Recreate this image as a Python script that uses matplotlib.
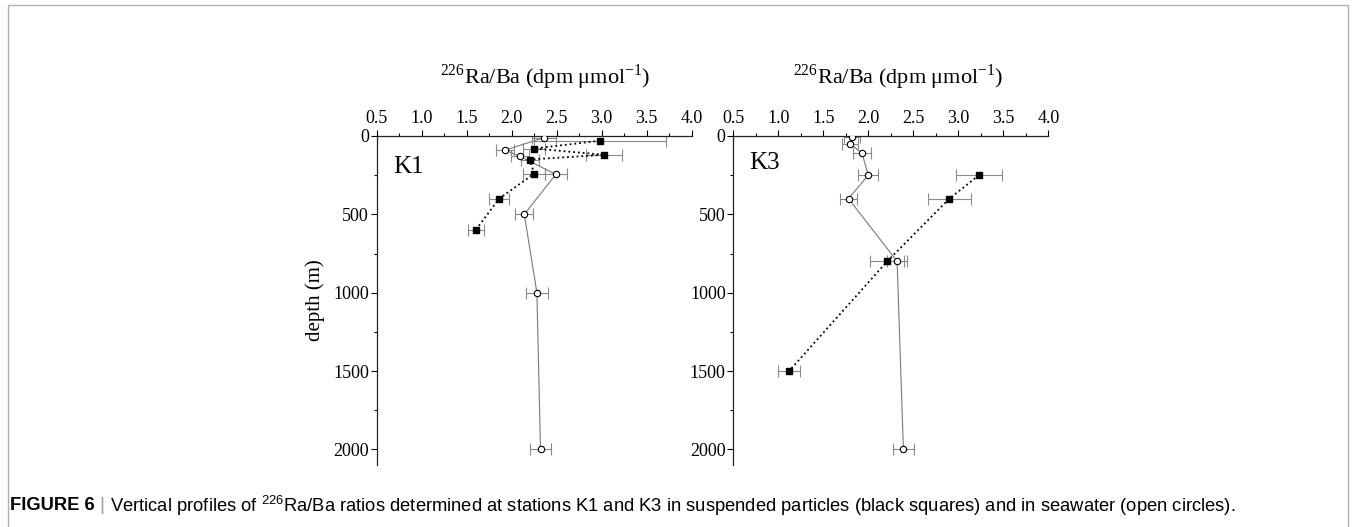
import matplotlib
matplotlib.use('Agg')
import matplotlib.pyplot as plt
from matplotlib.patches import Rectangle
from matplotlib.ticker import MultipleLocator

# K1 station
k1_part_depth = [30, 80, 120, 150, 240, 400, 600]
k1_part_ratio = [2.98, 2.25, 3.03, 2.20, 2.25, 1.86, 1.60]
k1_part_err = [0.73, 0.12, 0.20, 0.10, 0.12, 0.11, 0.09]

k1_sw_depth = [10, 90, 130, 245, 500, 1000, 2000]
k1_sw_ratio = [2.36, 1.93, 2.09, 2.49, 2.14, 2.28, 2.32]
k1_sw_err = [0.13, 0.10, 0.10, 0.12, 0.10, 0.12, 0.12]

# K3 station
k3_part_depth = [250, 400, 800, 1500]
k3_part_ratio = [3.23, 2.90, 2.21, 1.12]
k3_part_err = [0.26, 0.24, 0.19, 0.12]

k3_sw_depth = [5, 50, 110, 250, 400, 800, 2000]
k3_sw_ratio = [1.82, 1.80, 1.93, 2.00, 1.78, 2.32, 2.39]
k3_sw_err = [0.09, 0.09, 0.10, 0.11, 0.09, 0.11, 0.12]

xticks = [0.5, 1.0, 1.5, 2.0, 2.5, 3.0, 3.5, 4.0]
yticks = [0, 500, 1000, 1500, 2000]

plt.rcParams['font.family'] = ['Liberation Serif', 'DejaVu Serif']
plt.rcParams['mathtext.fontset'] = 'custom'
plt.rcParams['mathtext.rm'] = 'Liberation Serif'
plt.rcParams['mathtext.sf'] = 'Liberation Sans'

W, H = 1355, 527
fig = plt.figure(figsize=(W / 100, H / 100), dpi=100)

# light frame round the figure
fig.patches.append(Rectangle((8 / W, -0.1), (1348 - 8) / W, 1.1 - 5 / H,
                             transform=fig.transFigure, fill=False,
                             edgecolor='#b0b0b0', linewidth=1.0))

xlabel = r'$^{226}$Ra/Ba (dpm μmol$^{-1}$)'


def profile(ax, part_d, part_r, part_e, sw_d, sw_r, sw_e, name, name_y, lab_x):
    ax.errorbar(sw_r, sw_d, xerr=sw_e, fmt='none', ecolor='#8a8a8a',
                elinewidth=0.8, capsize=4, capthick=0.8, zorder=2)
    ax.errorbar(part_r, part_d, xerr=part_e, fmt='none', ecolor='#8a8a8a',
                elinewidth=0.8, capsize=4, capthick=0.8, zorder=2)
    ax.plot(sw_r, sw_d, '-', color='#7a7a7a', linewidth=0.8, zorder=3)
    ax.plot(part_r, part_d, ':', color='black', linewidth=1.3, zorder=3)
    ax.plot(sw_r, sw_d, 'o', mfc='white', mec='black', mew=0.8,
            markersize=4.6, linestyle='none', zorder=4)
    ax.plot(part_r, part_d, 's', color='black', markersize=4.5,
            linestyle='none', zorder=4)

    ax.set_xlim(0.5, 4.0)
    ax.set_ylim(2100, 0)
    ax.xaxis.tick_top()
    ax.xaxis.set_label_position('top')
    ax.set_xticks(xticks)
    ax.set_xticklabels(['%.1f' % v for v in xticks])
    ax.xaxis.set_minor_locator(MultipleLocator(0.25))
    ax.set_yticks(yticks)
    ax.yaxis.set_minor_locator(MultipleLocator(250))
    ax.tick_params(which='major', direction='out', length=4.5, width=0.8,
                   labelsize=13, pad=2, colors='black')
    ax.tick_params(which='minor', direction='out', length=2.5, width=0.8)
    ax.tick_params(axis='x', which='both', top=True, bottom=False)
    ax.tick_params(axis='y', which='both', left=True, right=False, pad=1)
    for side in ['right', 'bottom']:
        ax.spines[side].set_visible(False)
    for side in ['top', 'left']:
        ax.spines[side].set_linewidth(0.9)
        ax.spines[side].set_color('#222222')
    ax.set_xlabel(xlabel, fontsize=16, labelpad=19)
    ax.xaxis.label.set_x(lab_x)
    ax.text(0.68, name_y, name, fontsize=18, va='center', ha='left')


ax1 = fig.add_axes([376.7 / W, 1 - 465 / H, 315 / W, 329 / H])
profile(ax1, k1_part_depth, k1_part_ratio, k1_part_err,
        k1_sw_depth, k1_sw_ratio, k1_sw_err, 'K1', 195, 0.535)
ax1.set_ylabel('depth (m)', fontsize=15, labelpad=6)

ax3 = fig.add_axes([733.3 / W, 1 - 465 / H, 315 / W, 329 / H])
profile(ax3, k3_part_depth, k3_part_ratio, k3_part_err,
        k3_sw_depth, k3_sw_ratio, k3_sw_err, 'K3', 175, 0.522)

# caption, built piece by piece
cap_font = ['Liberation Sans', 'DejaVu Sans']
renderer = fig.canvas.get_renderer()
pieces = [('FIGURE 6', 'bold', 'black'),
          (' | ', 'normal', '#999999'),
          (r'Vertical profiles of $^{\mathsf{226}}$Ra/Ba ratios determined at stations '
           'K1 and K3 in suspended particles (black squares) and in seawater '
           '(open circles).', 'normal', 'black')]
x = 10
for txt, weight, col in pieces:
    t = fig.text(x / W, 1 - 506 / H, txt, fontsize=13.2, fontweight=weight,
                 color=col, family=cap_font, va='center', ha='left')
    bb = t.get_window_extent(renderer)
    x += bb.width

fig.savefig('out.png', dpi=100)
